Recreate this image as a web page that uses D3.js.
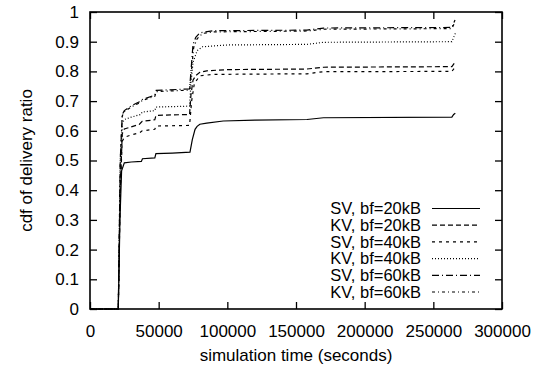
<!DOCTYPE html>
<html>
<head>
<meta charset="utf-8">
<script src="https://cdn.jsdelivr.net/npm/d3@7"></script>
<style>
body{margin:0;background:#fff}
text{font-family:"Liberation Sans",Arial,sans-serif;fill:#000}
</style>
</head>
<body>
<svg></svg>
<script>
// series data: [simulation time, cdf]
var sv20=[[0,0],[20600,0],[21800,0.30],[23000,0.465],[25000,0.492],[30000,0.495],[37400,0.497],[38200,0.506],[47200,0.509],[48000,0.523],[60000,0.525],[72800,0.528],[74500,0.57],[76500,0.605],[78000,0.615],[80000,0.622],[85000,0.626],[97000,0.633],[120000,0.636],[158000,0.638],[170000,0.644],[263500,0.646],[264800,0.655],[266000,0.659]]
var kv20=[[0,0],[20600,0],[22000,0.4],[23500,0.59],[25000,0.606],[30000,0.613],[36000,0.622],[38000,0.632],[47200,0.637],[48000,0.652],[72500,0.655],[73500,0.72],[75000,0.77],[77000,0.786],[80000,0.797],[85000,0.802],[100000,0.806],[158000,0.808],[170000,0.814],[263500,0.816],[265500,0.829]]
var sv40=[[0,0],[20600,0],[22000,0.4],[23500,0.565],[25000,0.578],[30000,0.586],[36000,0.593],[38000,0.6],[47200,0.605],[48000,0.616],[72500,0.618],[74000,0.7],[76000,0.76],[80000,0.785],[90000,0.79],[158000,0.792],[170000,0.799],[263500,0.8],[265500,0.812]]
var kv40=[[0,0],[20600,0],[22000,0.45],[23500,0.625],[25000,0.638],[30000,0.646],[37000,0.655],[38000,0.663],[47200,0.668],[48000,0.68],[72500,0.683],[73500,0.76],[75000,0.83],[78000,0.87],[82000,0.883],[100000,0.889],[158000,0.891],[170000,0.898],[263500,0.9],[266000,0.928]]
var sv60=[[0,0],[20600,0],[22000,0.5],[23500,0.655],[25000,0.668],[30000,0.684],[36000,0.698],[38000,0.705],[47200,0.72],[48200,0.736],[72500,0.741],[73500,0.8],[75000,0.89],[77000,0.915],[80000,0.93],[90000,0.937],[158000,0.939],[170000,0.946],[263500,0.948],[265800,0.973]]
var kv60=[[0,0],[20600,0],[22000,0.5],[23500,0.65],[25000,0.664],[30000,0.68],[36000,0.694],[38000,0.702],[47200,0.716],[48200,0.732],[72500,0.737],[73800,0.8],[75500,0.88],[78000,0.91],[82000,0.928],[90000,0.933],[158000,0.936],[170000,0.942],[263500,0.944],[265800,0.966]]

var names=["SV, bf=20kB","KV, bf=20kB","SV, bf=40kB","KV, bf=40kB","SV, bf=60kB","KV, bf=60kB"]
var seriesList=[sv20,kv20,sv40,kv40,sv60,kv60]
var dashes=["none","5,3","3,4","1,2","7,3,1,3","3,3,1,3"]
var xTicks=[0,50000,100000,150000,200000,250000,300000]
var yTicks=[0,0.1,0.2,0.3,0.4,0.5,0.6,0.7,0.8,0.9,1]

var W=543,H=367
var margins={top:12,bottom:58,left:90,right:41}
var boxW=W-margins.left-margins.right
var boxH=H-margins.top-margins.bottom

var svg=d3.select("svg").attr("width",W).attr("height",H)
svg.append("rect").attr("width",W).attr("height",H).attr("fill","#fff")

var xScale=d3.scaleLinear().domain([0,300000]).range([margins.left,margins.left+boxW])
var yScale=d3.scaleLinear().domain([0,1]).range([margins.top+boxH,margins.top])

var fs="17px"
// axes: ticks pointing inward, mirrored on top/right
var tl=7
svg.append("g").attr("transform","translate(0,"+(margins.top+boxH)+")")
  .call(d3.axisBottom(xScale).tickValues(xTicks).tickSizeInner(-tl).tickSizeOuter(0).tickPadding(16).tickFormat(d3.format("d")))
svg.append("g").attr("transform","translate(0,"+margins.top+")")
  .call(d3.axisTop(xScale).tickValues(xTicks).tickSizeInner(-tl).tickSizeOuter(0).tickFormat(""))
svg.append("g").attr("transform","translate("+margins.left+",0)")
  .call(d3.axisLeft(yScale).tickValues(yTicks).tickSizeInner(-tl).tickSizeOuter(0).tickPadding(11).tickFormat(function(d){return d3.format("")(+d.toFixed(1))}))
svg.append("g").attr("transform","translate("+(margins.left+boxW)+",0)")
  .call(d3.axisRight(yScale).tickValues(yTicks).tickSizeInner(-tl).tickSizeOuter(0).tickFormat(""))
svg.selectAll(".domain").remove()
svg.selectAll(".tick line").attr("stroke","#000").attr("stroke-width",1.3)
svg.selectAll(".tick text").attr("font-size",fs).attr("font-family","Liberation Sans, Arial, sans-serif")

var line=d3.line().x(function(d){return xScale(d[0])}).y(function(d){return yScale(d[1])})
seriesList.forEach(function(s,i){
  svg.append("path").datum(s).attr("d",line)
    .attr("fill","none").attr("stroke","#000").attr("stroke-width",1.2)
    .attr("stroke-dasharray",dashes[i])
})

svg.append("rect").attr("x",margins.left).attr("y",margins.top).attr("width",boxW).attr("height",boxH)
  .attr("fill","none").attr("stroke","#000").attr("stroke-width",1.6)

// legend
var leg=svg.append("g")
names.forEach(function(n,i){
  var y=208.5+i*16.7
  leg.append("text").attr("x",421).attr("y",y).attr("dy","0.35em").attr("text-anchor","end")
    .attr("font-size","16.5px").text(n)
  leg.append("line").attr("x1",432).attr("x2",480).attr("y1",y).attr("y2",y)
    .attr("stroke","#000").attr("stroke-width",1.2).attr("stroke-dasharray",dashes[i])
})

svg.append("text").attr("x",margins.left+boxW/2).attr("y",361).attr("text-anchor","middle")
  .attr("font-size",fs).text("simulation time (seconds)")
svg.append("text").attr("transform","translate(32,"+(margins.top+boxH/2)+") rotate(-90)")
  .attr("text-anchor","middle").attr("font-size",fs).text("cdf of delivery ratio")
</script>
</body>
</html>
